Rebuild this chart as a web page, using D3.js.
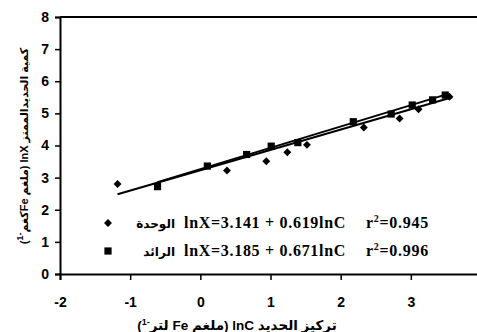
<!DOCTYPE html>
<html>
<head>
<meta charset="utf-8">
<script src="https://cdn.jsdelivr.net/npm/d3@7"></script>
<style>
  body { margin: 0; background: #fff; }
  svg { display: block; }
  .title { font-family: Arial, 'Liberation Sans', 'DejaVu Sans', sans-serif; font-weight: bold; }
  .eq { font-family: 'Times New Roman', 'Liberation Serif', serif; font-weight: bold; font-size: 16px; letter-spacing: 0.7px; }
  .lab { font-family: Arial, 'DejaVu Sans', sans-serif; font-weight: bold; font-size: 12px; }
</style>
</head>
<body>
<div id="chart"></div>
<script>
// series (lnC, lnX)
const wahdaC = [-1.18, 0.38, 0.94, 1.24, 1.52, 2.33, 2.84, 3.11, 3.55];
const wahdaX = [2.80, 3.22, 3.51, 3.79, 4.02, 4.56, 4.84, 5.13, 5.52];
const raedC = [-0.61, 0.10, 0.66, 1.01, 1.39, 2.18, 2.72, 3.02, 3.31, 3.49];
const raedX = [2.72, 3.36, 3.72, 3.98, 4.09, 4.74, 4.98, 5.26, 5.42, 5.57];

// trend line ends as drawn in the picture
const wahdaTrendC = [-1.18, 3.59];
const wahdaTrendX = [2.48, 5.50];
const raedTrendC = [-0.61, 3.52];
const raedTrendX = [2.86, 5.60];

const seriesNames = ['الوحدة', 'الرائد'];
const seriesEq = ['lnX=3.141 + 0.619lnC', 'lnX=3.185 + 0.671lnC'];
const seriesR2 = ['0.945', '0.996'];
const xTicks = [-2, -1, 0, 1, 2, 3, 4];
const yTicks = [0, 1, 2, 3, 4, 5, 6, 7, 8];

const W = 477;
const H = 332;
const margin = { top: 17, right: -4, bottom: 58, left: 60 };
const width = W - margin.left - margin.right;
const height = H - margin.top - margin.bottom;

const scaleX = d3.scaleLinear().domain([-2, 4]).range([0, width]);
const scaleY = d3.scaleLinear().domain([0, 8]).range([height, 0]);

const zip = (cs, xs) => cs.map((c, i) => ({ c, x: xs[i] }));

const series = [
  { name: seriesNames[0], eq: seriesEq[0], r2: seriesR2[0], symbol: d3.symbolDiamond2, size: 40,
    points: zip(wahdaC, wahdaX), trend: zip(wahdaTrendC, wahdaTrendX) },
  { name: seriesNames[1], eq: seriesEq[1], r2: seriesR2[1], symbol: d3.symbolSquare, size: 52,
    points: zip(raedC, raedX), trend: zip(raedTrendC, raedTrendX) },
];

const $svg = d3.select('#chart').append('svg')
  .attr('width', W)
  .attr('height', H);

const $g = $svg.append('g')
  .attr('transform', `translate(${margin.left}, ${margin.top})`);

// frame top
$g.append('line')
  .attr('x1', 0).attr('x2', width)
  .attr('y1', 0).attr('y2', 0)
  .attr('stroke', '#000').attr('stroke-width', 2);

function styleAxis($a) {
  $a.select('.domain').attr('stroke-width', 2);
  $a.selectAll('.tick line').attr('stroke-width', 1.5);
  $a.selectAll('.tick text')
    .attr('font-family', 'Arial, "Liberation Sans", sans-serif')
    .attr('font-weight', 'bold')
    .attr('font-size', 14)
    .attr('fill', '#000');
}

// plain hyphen for negatives, as in the source chart
const fmt = d => String(d);

const $xAxis = $g.append('g')
  .attr('transform', `translate(0, ${height})`)
  .call(d3.axisBottom(scaleX).tickValues(xTicks).tickSize(6).tickPadding(17).tickFormat(fmt));
styleAxis($xAxis);

const $yAxis = $g.append('g')
  .call(d3.axisLeft(scaleY).tickValues(yTicks).tickSize(5).tickPadding(6).tickFormat(fmt));
styleAxis($yAxis);

const line = d3.line().x(d => scaleX(d.c)).y(d => scaleY(d.x));

series.forEach(s => {
  $g.append('path')
    .datum(s.trend)
    .attr('d', line)
    .attr('fill', 'none')
    .attr('stroke', '#000')
    .attr('stroke-width', 2);
});

series.forEach(s => {
  $g.selectAll(null)
    .data(s.points)
    .join('path')
    .attr('transform', d => `translate(${scaleX(d.c)}, ${scaleY(d.x)})`)
    .attr('d', d3.symbol().type(s.symbol).size(s.size))
    .attr('fill', '#000');
});

// legend
const $legend = $g.append('g').attr('transform', 'translate(48, 206)');
series.forEach((s, i) => {
  const $row = $legend.append('g').attr('transform', `translate(0, ${i * 28})`);
  $row.append('path')
    .attr('d', d3.symbol().type(s.symbol).size(s.size))
    .attr('fill', '#000');
  $row.append('text')
    .attr('class', 'lab')
    .attr('x', 67).attr('y', 5)
    .attr('text-anchor', 'start')
    .attr('direction', 'rtl')
    .text(s.name);
  $row.append('text')
    .attr('class', 'eq')
    .attr('x', 76).attr('y', 5)
    .text(s.eq);
  const $r = $row.append('text')
    .attr('class', 'eq')
    .attr('x', 258).attr('y', 5);
  $r.append('tspan').text('r');
  $r.append('tspan').attr('dy', -6).attr('font-size', 10).text('2');
  $r.append('tspan').attr('dy', 6).text('=' + s.r2);
});

// axis titles
const $xt = $svg.append('text')
  .attr('class', 'title')
  .attr('font-size', 13.5)
  .attr('x', 237).attr('y', 330)
  .attr('text-anchor', 'middle')
  .attr('direction', 'rtl');
$xt.append('tspan').text('تركيز الحديد lnC (ملغم Fe لتر');
$xt.append('tspan').attr('dy', -5).attr('font-size', 9).text('-1');
$xt.append('tspan').attr('dy', 5).text(')');

const $yt = $svg.append('text')
  .attr('class', 'title')
  .attr('font-size', 11)
  .attr('transform', 'translate(28, 146) rotate(-90)')
  .attr('text-anchor', 'middle')
  .attr('direction', 'rtl');
$yt.append('tspan').text('كمية الحديدالممتز lnX (ملغم Feكغم');
$yt.append('tspan').attr('dy', -5).attr('font-size', 9).text('-1');
$yt.append('tspan').attr('dy', 5).text(')');
</script>
</body>
</html>
